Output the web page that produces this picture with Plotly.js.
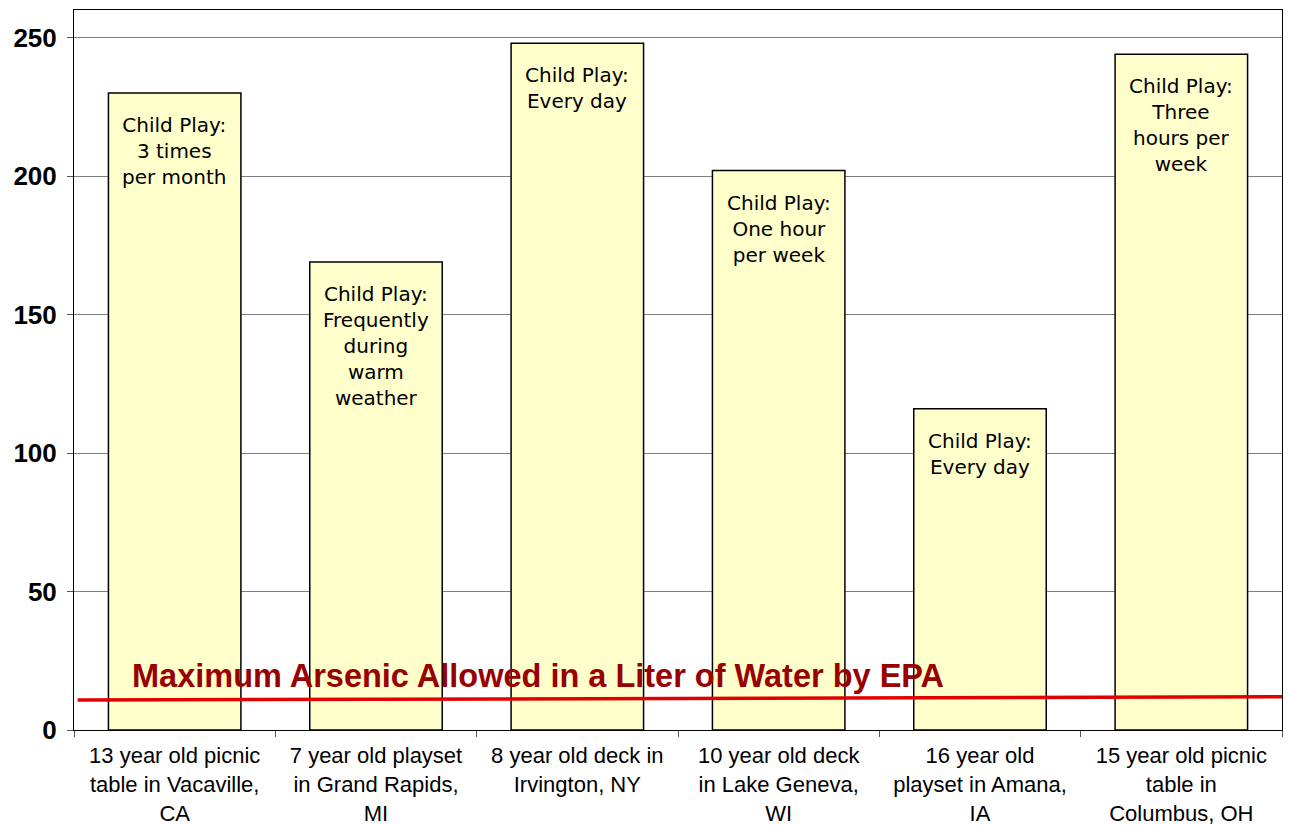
<!DOCTYPE html>
<html>
<head>
<meta charset="utf-8">
<script src="https://cdn.plot.ly/plotly-3.0.1.min.js"></script>
<style>
html,body{margin:0;padding:0;background:#fff;}
#chart{width:1289px;height:825px;}
</style>
</head>
<body>
<div id="chart"></div>
<script>
var categories = [
  "13 year old picnic<br>table in Vacaville,<br>CA",
  "7 year old playset<br>in Grand Rapids,<br>MI",
  "8 year old deck in<br>Irvington, NY",
  "10 year old deck<br>in Lake Geneva,<br>WI",
  "16 year old<br>playset in Amana,<br>IA",
  "15 year old picnic<br>table in<br>Columbus, OH"
];
var arsenicValues = [230, 169, 248, 202, 116, 244];
var playLabels = [
  "Child Play:<br>3 times<br>per month",
  "Child Play:<br>Frequently<br>during<br>warm<br>weather",
  "Child Play:<br>Every day",
  "Child Play:<br>One hour<br>per week",
  "Child Play:<br>Every day",
  "Child Play:<br>Three<br>hours per<br>week"
];
var yTickValues = [0, 50, 100, 150, 200, 250];
var epaLineValues = [10.8, 12.0];
var epaLabel = "Maximum Arsenic Allowed in a Liter of Water by EPA";

var trace = {
  type: "bar",
  x: categories,
  y: arsenicValues,
  marker: {color: "#FFFFCC", line: {color: "#000000", width: 1.5}},
  hoverinfo: "x+y"
};

var annotations = categories.map(function (c, i) {
  return {
    x: c, y: arsenicValues[i], xref: "x", yref: "y",
    text: playLabels[i], showarrow: false,
    xanchor: "center", yanchor: "top", yshift: -18,
    align: "center",
    font: {family: "DejaVu Sans, Verdana, sans-serif", size: 20, color: "#000000"}
  };
});
annotations.push({
  x: 0.046, xref: "paper", y: 12.2, yref: "y",
  xanchor: "left", yanchor: "bottom",
  text: "<b>" + epaLabel + "</b>", showarrow: false,
  font: {family: "Liberation Sans, Arial, sans-serif", size: 32.5, color: "#990000"}
});

var layout = {
  width: 1289, height: 825,
  margin: {l: 74, r: 7, t: 10, b: 95},
  paper_bgcolor: "#ffffff",
  plot_bgcolor: "#ffffff",
  showlegend: false,
  bargap: 0.342,
  xaxis: {
    type: "category",
    tickson: "boundaries",
    ticks: "outside", ticklen: 6, tickcolor: "#555555",
    showline: true, linecolor: "#000000", linewidth: 1, mirror: true,
    showgrid: false,
    ticklabelstandoff: 6,
    tickfont: {family: "Liberation Sans, Arial, sans-serif", size: 22, color: "#000000"}
  },
  yaxis: {
    range: [0, 260],
    tickvals: yTickValues,
    ticktext: yTickValues.map(function (v) { return "<b>" + v + "</b>"; }),
    ticks: "outside", ticklen: 6, tickcolor: "#555555",
    showline: true, linecolor: "#000000", linewidth: 1, mirror: true,
    showgrid: true, gridcolor: "#808080", gridwidth: 1,
    zeroline: false,
    ticklabelstandoff: 5,
    tickfont: {family: "Liberation Sans, Arial, sans-serif", size: 26, color: "#000000"}
  },
  shapes: [{
    type: "line", xref: "paper", yref: "y",
    x0: 0.003, x1: 1, y0: epaLineValues[0], y1: epaLineValues[1],
    line: {color: "#E00000", width: 3.5},
    layer: "above"
  }],
  annotations: annotations
};

Plotly.newPlot("chart", [trace], layout, {displayModeBar: false, staticPlot: true});
</script>
</body>
</html>
